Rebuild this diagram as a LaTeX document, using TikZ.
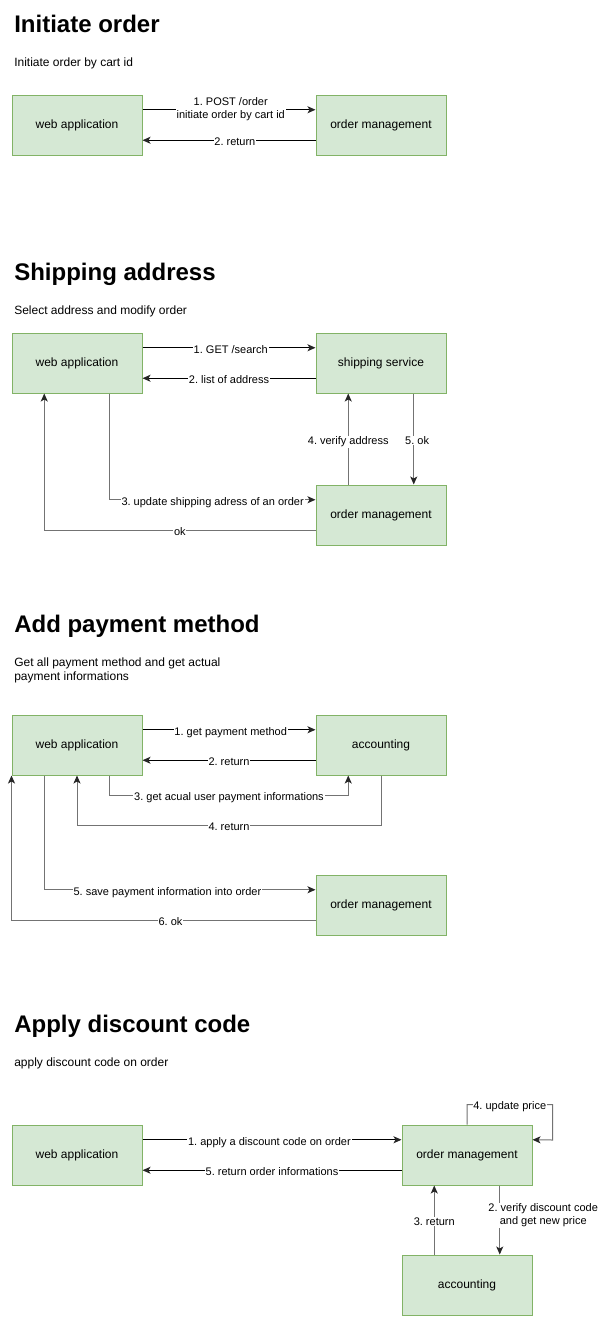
\documentclass[tikz,border=0pt]{standalone}
\usepackage{fontspec}
\setmainfont{Liberation Sans}
\usetikzlibrary{arrows.meta,calc}
\definecolor{boxfill}{HTML}{D5E8D4}
\definecolor{boxline}{HTML}{82B366}
\frenchspacing
\begin{document}
\frenchspacing
\begin{tikzpicture}[x=0.75pt,y=-0.75pt,
  box/.style={draw=boxline, fill=boxfill, line width=0.75pt, minimum width=97.5pt, minimum height=45pt, inner sep=0pt, font=\fontsize{9}{10.8}\selectfont},
  lbl/.style={fill=white, inner sep=0.6pt, font=\fontsize{8.25}{10}\selectfont\frenchspacing, anchor=base, yshift=-4.1pt},
  lbltwo/.style={fill=white, inner sep=0.6pt, font=\fontsize{8.25}{10}\selectfont\frenchspacing, align=center, anchor=center},
  headline/.style={anchor=base west, inner sep=0pt, font=\fontsize{18}{21.6}\selectfont\bfseries},
  subline/.style={anchor=base west, inner sep=0pt, font=\fontsize{9}{10.5}\selectfont},
  tipstyle/.style={-{Stealth[length=6pt,width=5.25pt,inset=1.5pt,color=black!85]}},
  arr/.style={line width=0.75pt, draw=black, tipstyle},
  garr/.style={line width=0.75pt, draw=black!55, tipstyle}
]
\fill[white] (0,0) rectangle (604,1321);
\useasboundingbox (0,0) rectangle (604,1321);

% ---------- Section 1 ----------
\node[headline] (t1) at (14,32.3) {Initiate order};
\node[subline] (s1) at (14,66.5) {Initiate order by cart id};
\node[box] (web1) at (77,125) {web application};
\node[box] (om1) at (381,125) {order management};
\draw[arr] ($(web1.north east)!.25!(web1.south east)$) -- node[lbltwo, pos=0.51, yshift=0.6pt] {1. POST /order\\initiate order by cart id} ($(om1.north west)!.25!(om1.south west)$);
\draw[arr] ($(om1.north west)!.75!(om1.south west)$) -- node[lbl, pos=0.466] {2. return} ($(web1.north east)!.75!(web1.south east)$);

% ---------- Section 2 ----------
\node[headline] (t2) at (14,280.3) {Shipping address};
\node[subline] (s2) at (14,314.5) {Select address and modify order};
\node[box] (web2) at (77,363) {web application};
\node[box] (shp2) at (381,363) {shipping service};
\node[box] (om2) at (381,515) {order management};
\draw[arr] ($(web2.north east)!.25!(web2.south east)$) -- node[lbl, pos=0.51] {1. GET /search} ($(shp2.north west)!.25!(shp2.south west)$);
\draw[arr] ($(shp2.north west)!.75!(shp2.south west)$) -- node[lbl, pos=0.5] {2. list of address} ($(web2.north east)!.75!(web2.south east)$);
\draw[garr] ($(web2.south west)!.75!(web2.south east)$) |- node[lbl, pos=0.75] {3. update shipping adress of an order} ($(om2.north west)!.25!(om2.south west)$);
\draw[garr] ($(om2.north west)!.75!(om2.south west)$) -| node[lbl, pos=0.25] {ok} ($(web2.south west)!.25!(web2.south east)$);
\draw[garr] ($(om2.north west)!.25!(om2.north east)$) -- node[lbl, pos=0.5] {4. verify address} ($(shp2.south west)!.25!(shp2.south east)$);
\draw[garr] ($(shp2.south west)!.75!(shp2.south east)$) -- node[lbl, pos=0.5, xshift=2.5pt] {5. ok} ($(om2.north west)!.75!(om2.north east)$);

% ---------- Section 3 ----------
\node[headline] (t3) at (14,632.3) {Add payment method};
\node[subline] (s3a) at (14,666.5) {Get all payment method and get actual};
\node[subline] (s3b) at (14,680.5) {payment informations};
\node[box] (web3) at (77,745) {web application};
\node[box] (acc3) at (381,745) {accounting};
\node[box] (om3) at (381,905) {order management};
\draw[arr] ($(web3.north east)!.25!(web3.south east)$) -- node[lbl, pos=0.51] {1. get payment method} ($(acc3.north west)!.25!(acc3.south west)$);
\draw[arr] ($(acc3.north west)!.75!(acc3.south west)$) -- node[lbl, pos=0.5] {2. return} ($(web3.north east)!.75!(web3.south east)$);
\draw[garr] ($(web3.south west)!.75!(web3.south east)$) -- ++(0,20) -| node[lbl, pos=0.25] {3. get acual user payment informations} ($(acc3.south west)!.25!(acc3.south east)$);
\draw[garr] (acc3.south) -- ++(0,50) -| node[lbl, pos=0.25] {4. return} (web3.south);
\draw[garr] ($(web3.south west)!.25!(web3.south east)$) |- node[lbl, pos=0.727] {5. save payment information into order} ($(om3.north west)!.25!(om3.south west)$);
\draw[garr] ($(om3.north west)!.75!(om3.south west)$) -| node[lbl, pos=0.2385] {6. ok} (web3.south west);

% ---------- Section 4 ----------
\node[headline] (t4) at (14,1032.3) {Apply discount code};
\node[subline] (s4) at (14,1066.5) {apply discount code on order};
\node[box] (web4) at (77,1155) {web application};
\node[box] (om4) at (467,1155) {order management};
\node[box] (acc4) at (467,1285) {accounting};
\draw[arr] ($(web4.north east)!.25!(web4.south east)$) -- node[lbl, pos=0.49] {1. apply a discount code on order} ($(om4.north west)!.25!(om4.south west)$);
\draw[arr] ($(om4.north west)!.75!(om4.south west)$) -- node[lbl, pos=0.5] {5. return order informations} ($(web4.north east)!.75!(web4.south east)$);
\draw[garr] (om4.north) -- ++(0,-20) -| node[lbl, pos=0.25] {4. update price} ($(om4.east)+(20,-15)$) -- ($(om4.north east)!.25!(om4.south east)$);
\draw[garr] ($(om4.south west)!.75!(om4.south east)$) -- node[lbltwo, pos=0.43, xshift=32.6pt] {2. verify discount code\\and get new price} ($(acc4.north west)!.75!(acc4.north east)$);
\draw[garr] ($(acc4.north west)!.25!(acc4.north east)$) -- node[lbl, pos=0.5] {3. return} ($(om4.south west)!.25!(om4.south east)$);
\end{tikzpicture}
\end{document}
